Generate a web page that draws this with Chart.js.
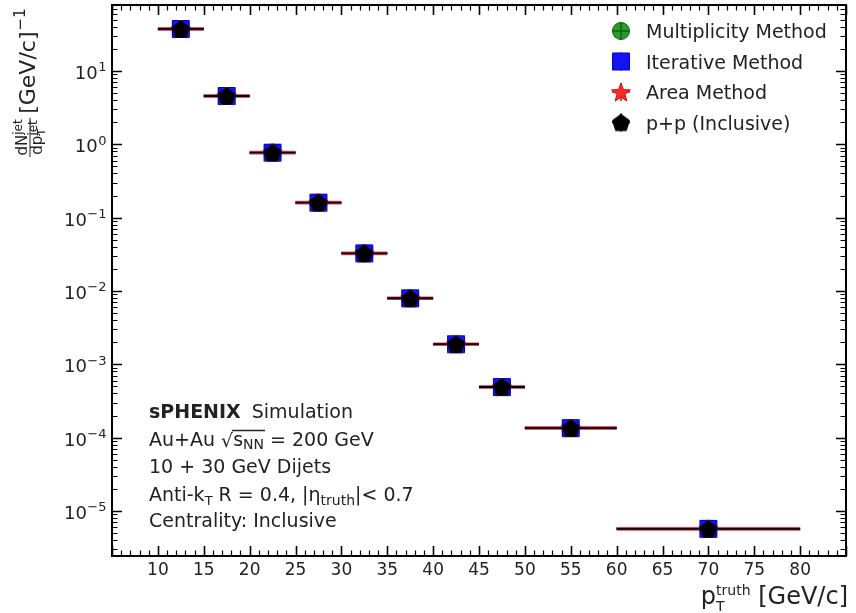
<!DOCTYPE html>
<html>
<head>
<meta charset="utf-8">
<script src="https://cdn.jsdelivr.net/npm/chart.js@4.4.1/dist/chart.umd.min.js"></script>
<style>
  html, body { margin: 0; padding: 0; background: #fff; }
  #wrap { width: 856px; height: 613px; }
</style>
</head>
<body>
<div id="wrap"><canvas id="spec"></canvas></div>
<script>
// jet pT bins (GeV/c)
const binLo  = [10, 15, 20, 25, 30, 35, 40, 45, 50, 60];
const binHi  = [15, 20, 25, 30, 35, 40, 45, 50, 60, 80];
const binMid = [12.5, 17.5, 22.5, 27.5, 32.5, 37.5, 42.5, 47.5, 55, 70];

// dN/dpT per method
const multiplicity = [37.4, 4.56, 0.77, 0.160, 0.0326, 0.00795, 0.00188, 0.00049, 0.000135, 0.0000057];
const iterative    = [37.4, 4.56, 0.77, 0.160, 0.0326, 0.00795, 0.00188, 0.00049, 0.000135, 0.0000057];
const areaMethod   = [37.4, 4.56, 0.77, 0.160, 0.0326, 0.00795, 0.00188, 0.00049, 0.000135, 0.0000057];
const ppInclusive  = [37.4, 4.56, 0.77, 0.160, 0.0326, 0.00795, 0.00188, 0.00049, 0.000135, 0.0000057];

const xTicks = [10, 15, 20, 25, 30, 35, 40, 45, 50, 55, 60, 65, 70, 75, 80];
const yTicks = [1e-5, 1e-4, 1e-3, 1e-2, 1e-1, 1e0, 1e1];
const yTickExp = ['−5', '−4', '−3', '−2', '−1', '0', '1'];

const legendItems = [
  { label: 'Multiplicity Method', key: 'circle' },
  { label: 'Iterative Method', key: 'square' },
  { label: 'Area Method', key: 'star' },
  { label: 'p+p (Inclusive)', key: 'pentagon' }
];

const FONT = '"DejaVu Sans", sans-serif';
const TXT = '#222';
const COL = { circle: '#2a9a2a', square: '#1414f0', star: '#f52a2a', pentagon: '#000000' };
const EDGE = { circle: '#136313', square: '#0000c8', star: '#d01010', pentagon: '#000000' };

// marker sprites used both on the points and in the legend
function sprite(kind) {
  const s = 22, c = document.createElement('canvas');
  c.width = s; c.height = s;
  const g = c.getContext('2d'), m = s / 2;
  g.fillStyle = COL[kind];
  g.strokeStyle = EDGE[kind];
  g.lineWidth = 1;
  g.beginPath();
  if (kind === 'circle') {
    g.arc(m, m, 8.5, 0, Math.PI * 2);
  } else if (kind === 'square') {
    g.rect(m - 8.5, m - 8.5, 17, 17);
  } else if (kind === 'star') {
    for (let i = 0; i < 10; i++) {
      const r = i % 2 ? 4.2 : 10, a = -Math.PI / 2 + i * Math.PI / 5;
      g.lineTo(m + r * Math.cos(a), m + 1 + r * Math.sin(a));
    }
    g.closePath();
  } else {
    for (let i = 0; i < 5; i++) {
      const a = -Math.PI / 2 + i * 2 * Math.PI / 5;
      g.lineTo(m + 9 * Math.cos(a), m + 0.8 + 9 * Math.sin(a));
    }
    g.closePath();
  }
  g.fill();
  g.stroke();
  return c;
}
const sprites = {};
['circle', 'square', 'star', 'pentagon'].forEach(k => sprites[k] = sprite(k));

const points = vals => binMid.map((x, i) => ({ x, y: vals[i] }));
const xErr = vals => {
  const out = [];
  vals.forEach((v, i) => {
    out.push({ x: binLo[i], y: v }, { x: binHi[i], y: v }, { x: binHi[i], y: null });
  });
  return out;
};

function markerSet(vals, kind, order) {
  return { data: points(vals), pointStyle: sprites[kind], pointRadius: 9, showLine: false, order };
}
function barSet(vals, color, width, order) {
  return { data: xErr(vals), showLine: true, spanGaps: false, borderColor: color, borderWidth: width,
           pointRadius: 0, order };
}

// inward ticks on all four sides, the frame and the decade labels
const frame = {
  id: 'frame',
  afterDraw(chart) {
    const { ctx, chartArea: a, scales: { x, y } } = chart;
    ctx.save();
    ctx.strokeStyle = '#000';
    const tick = (px, len, w, horiz) => {
      ctx.lineWidth = w;
      ctx.beginPath();
      if (horiz) {
        ctx.moveTo(px, a.bottom); ctx.lineTo(px, a.bottom - len);
        ctx.moveTo(px, a.top); ctx.lineTo(px, a.top + len);
      } else {
        ctx.moveTo(a.left, px); ctx.lineTo(a.left + len, px);
        ctx.moveTo(a.right, px); ctx.lineTo(a.right - len, px);
      }
      ctx.stroke();
    };
    for (let v = Math.ceil(x.min); v <= x.max; v++) {
      tick(Math.round(x.getPixelForValue(v)) + 0.5, v % 5 === 0 ? 10 : 5.5, v % 5 === 0 ? 1.6 : 1.2, true);
    }
    for (let e = -6; e <= 2; e++) {
      for (let k = 1; k <= 9; k++) {
        const v = k * Math.pow(10, e);
        if (v < y.min || v > y.max) continue;
        tick(Math.round(y.getPixelForValue(v)) + 0.5, k === 1 ? 10 : 5.5, k === 1 ? 1.6 : 1.2, false);
      }
    }
    ctx.lineWidth = 2;
    ctx.strokeRect(a.left, a.top, a.right - a.left, a.bottom - a.top);

    ctx.fillStyle = TXT;
    ctx.textAlign = 'left';
    ctx.textBaseline = 'alphabetic';
    yTicks.forEach((v, i) => {
      const py = y.getPixelForValue(v);
      ctx.font = `13px ${FONT}`;
      const ew = ctx.measureText(yTickExp[i]).width;
      ctx.font = `18px ${FONT}`;
      const bw = ctx.measureText('10').width;
      const x0 = a.left - 6 - ew - bw;
      ctx.fillText('10', x0, py + 8);
      ctx.font = `13px ${FONT}`;
      ctx.fillText(yTickExp[i], x0 + bw + 0.5, py + 0.5);
    });
    ctx.restore();
  }
};

function rich(ctx, x, y, parts) {
  parts.forEach(p => {
    ctx.font = `${p.bold ? 'bold ' : ''}${p.size}px ${FONT}`;
    ctx.fillText(p.t, x, y + (p.dy || 0));
    x += ctx.measureText(p.t).width + (p.gap || 0);
  });
  return x;
}

const texts = {
  id: 'texts',
  afterDraw(chart) {
    const { ctx, chartArea: a } = chart;
    ctx.save();
    ctx.fillStyle = TXT;
    ctx.textBaseline = 'alphabetic';
    ctx.textAlign = 'left';

    // legend
    legendItems.forEach((it, i) => {
      const cx = 621, cy = 31 + i * 30.5;
      ctx.strokeStyle = EDGE[it.key];
      ctx.lineWidth = 1.5;
      ctx.beginPath();
      ctx.moveTo(cx - 9, cy); ctx.lineTo(cx + 9, cy);
      ctx.moveTo(cx, cy - 9); ctx.lineTo(cx, cy + 9);
      ctx.stroke();
      const sp = sprites[it.key];
      ctx.drawImage(sp, cx - sp.width / 2, cy - sp.height / 2);
      if (it.key === 'circle') {
        ctx.beginPath();
        ctx.moveTo(cx - 8, cy); ctx.lineTo(cx + 8, cy);
        ctx.moveTo(cx, cy - 8); ctx.lineTo(cx, cy + 8);
        ctx.stroke();
      }
      ctx.font = `19px ${FONT}`;
      ctx.fillText(it.label, 646, cy + 7);
    });

    // annotation block
    const L = 149, S = 19;
    rich(ctx, L, 418, [{ t: 'sPHENIX', size: S, bold: true, gap: 5 }, { t: ' Simulation', size: S }]);
    let x = rich(ctx, L, 446, [{ t: 'Au+Au ', size: S }]);
    ctx.font = `${S}px ${FONT}`;
    const rw = ctx.measureText('√').width;
    ctx.fillText('√', x, 447);
    const ox = x + rw - 1;
    x = rich(ctx, x + rw, 446, [{ t: 's', size: S }, { t: 'NN', size: 14, dy: 3 }]);
    ctx.strokeStyle = TXT; ctx.lineWidth = 1.3;
    ctx.beginPath(); ctx.moveTo(ox, 446 - 15.5); ctx.lineTo(x + 1, 446 - 15.5); ctx.stroke();
    rich(ctx, x, 446, [{ t: ' = 200 GeV', size: S }]);
    rich(ctx, L, 473, [{ t: '10 + 30 GeV Dijets', size: S }]);
    rich(ctx, L, 501, [
      { t: 'Anti-k', size: S }, { t: 'T', size: 13, dy: 4 },
      { t: ' R = 0.4, |η', size: S }, { t: 'truth', size: 14, dy: 4 }, { t: '|< 0.7', size: S }
    ]);
    rich(ctx, L, 527, [{ t: 'Centrality: Inclusive', size: S }]);

    // x title, right aligned to the frame
    ctx.font = `24px ${FONT}`;
    const wp = ctx.measureText('p').width, wb = ctx.measureText(' [GeV/c]').width;
    ctx.font = `14px ${FONT}`;
    const wt = ctx.measureText('truth').width;
    let tx = a.right + 2 - (wp + wt + wb);
    rich(ctx, tx, 604, [{ t: 'p', size: 24 }]);
    rich(ctx, tx + wp, 595, [{ t: 'truth', size: 14 }]);
    rich(ctx, tx + wp, 611, [{ t: 'T', size: 14 }]);
    rich(ctx, tx + wp + wt, 604, [{ t: ' [GeV/c]', size: 24 }]);

    // y title, rotated, anchored at the top of the axis
    ctx.translate(30, 157);
    ctx.rotate(-Math.PI / 2);
    ctx.font = `15px ${FONT}`;
    const nMain = ctx.measureText('dN').width, dMain = ctx.measureText('dp').width;
    ctx.font = `12px ${FONT}`;
    const jw = ctx.measureText('jet').width;
    const nw = nMain + jw, dw = dMain + jw;
    const fw = Math.max(nw, dw) + 3;
    ctx.strokeStyle = TXT; ctx.lineWidth = 1;
    ctx.beginPath(); ctx.moveTo(0, 0); ctx.lineTo(fw, 0); ctx.stroke();
    let nx = rich(ctx, (fw - nw) / 2, -3, [{ t: 'dN', size: 15 }]);
    rich(ctx, nx, -8, [{ t: 'jet', size: 12 }]);
    let dx = rich(ctx, (fw - dw) / 2, 12, [{ t: 'dp', size: 15 }]);
    rich(ctx, dx, 7, [{ t: 'jet', size: 12 }]);
    rich(ctx, dx, 15, [{ t: 'T', size: 11 }]);
    let gx = rich(ctx, fw + 4, 5, [{ t: '[GeV/c]', size: 22 }]);
    rich(ctx, gx + 1, -5, [{ t: '−1', size: 15 }]);
    ctx.restore();
  }
};

new Chart(document.getElementById('spec'), {
  type: 'scatter',
  data: {
    datasets: [
      markerSet(ppInclusive, 'pentagon', 0),
      markerSet(areaMethod, 'star', 1),
      markerSet(iterative, 'square', 2),
      markerSet(multiplicity, 'circle', 3),
      barSet(ppInclusive, '#000000', 1.8, 4),
      barSet(areaMethod, '#e4405c', 3.6, 5),
      barSet(iterative, '#1414f0', 2.5, 6),
      barSet(multiplicity, '#2a9a2a', 2.5, 7)
    ]
  },
  options: {
    responsive: true,
    maintainAspectRatio: false,
    animation: false,
    layout: { autoPadding: false, padding: { top: 5, right: 10, left: 0, bottom: 0 } },
    plugins: { legend: { display: false }, tooltip: { enabled: false } },
    scales: {
      x: {
        type: 'linear', min: 5, max: 85, bounds: 'data',
        grid: { display: false, drawTicks: false }, border: { display: false },
        afterBuildTicks: s => { s.ticks = xTicks.map(v => ({ value: v })); },
        afterFit: s => { s.height = 57; s.paddingLeft = 0; s.paddingRight = 0; },
        ticks: { color: TXT, font: { family: FONT, size: 17 }, padding: 4, maxRotation: 0, autoSkip: false }
      },
      y: {
        type: 'logarithmic', min: 2.43e-6, max: 79.4, bounds: 'data',
        grid: { display: false, drawTicks: false }, border: { display: false },
        afterBuildTicks: s => { s.ticks = yTicks.map(v => ({ value: v })); },
        afterFit: s => { s.width = 112; s.paddingTop = 0; s.paddingBottom = 0; },
        ticks: { display: false }
      }
    }
  },
  plugins: [frame, texts]
});
</script>
</body>
</html>
